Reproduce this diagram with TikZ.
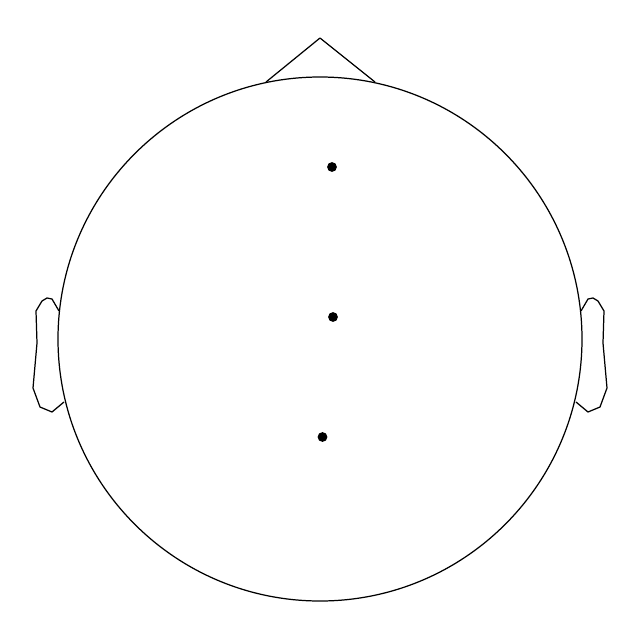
\documentclass[tikz,border=0pt]{standalone}
\usepackage{tikz}
\begin{document}
\begin{tikzpicture}[x=0.02cm,y=-0.02cm]
\path[use as bounding box] (0,0) rectangle (640,640);
% head
\draw[line width=0.7pt] (320,339) circle (262);
% nose
\draw[line width=0.7pt,line join=round] (266,82) -- (320,38) -- (375,82);
% ears
\draw[line width=0.7pt,line join=round] (59,311) -- (52,299) -- (47,298) -- (42,301) -- (36,311) -- (37,343) -- (33,388) -- (40,407) -- (52,412) -- (64,402);
\draw[line width=0.7pt,line join=round] (581,311) -- (588,299) -- (593,298) -- (598,301) -- (604,311) -- (603,343) -- (607,388) -- (600,407) -- (588,412) -- (576,402);
% sensors
\fill (332,167) circle (4.9);
\fill (333,317) circle (4.9);
\fill (322.5,437) circle (4.9);
\end{tikzpicture}
\end{document}
